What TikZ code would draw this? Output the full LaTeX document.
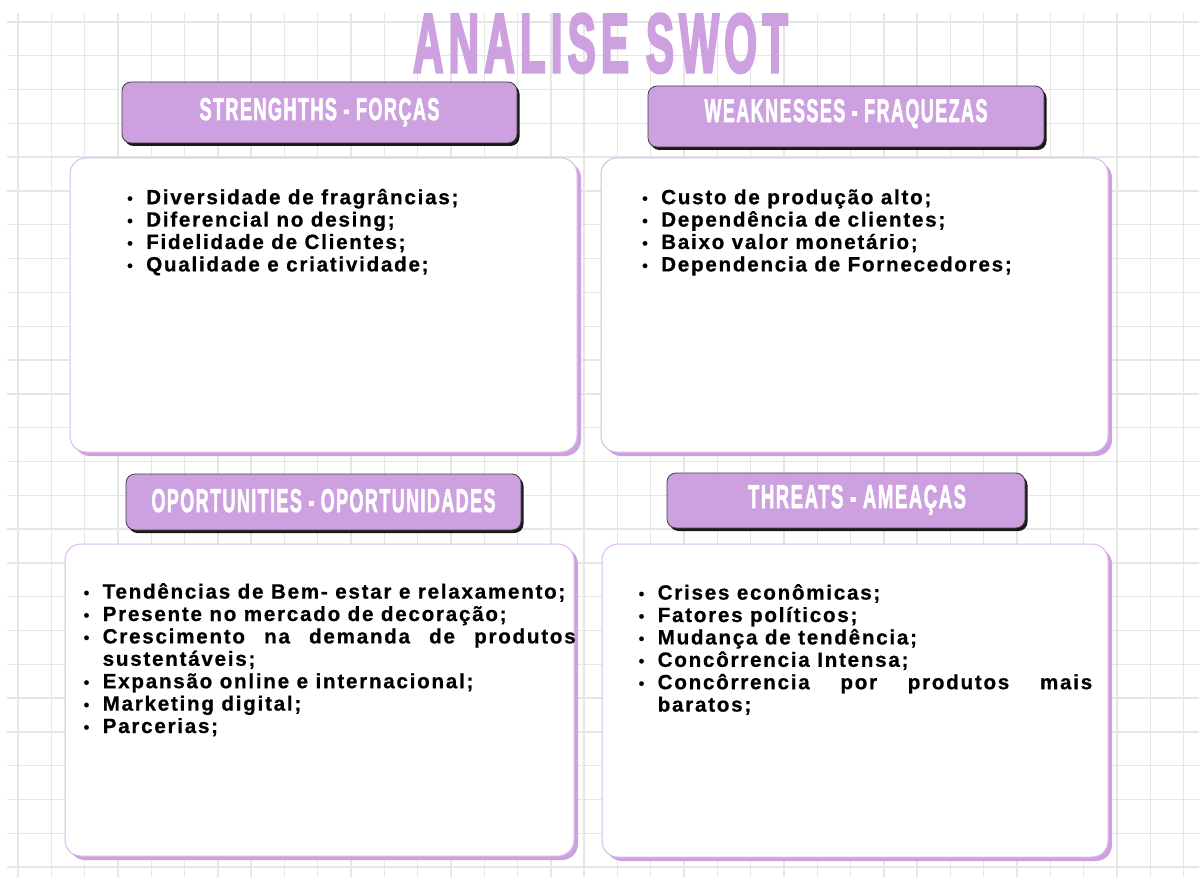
\documentclass[tikz,border=0pt]{standalone}
\usepackage{fontspec}
\usepackage{graphicx}
\usetikzlibrary{shadows}
\setmainfont{Liberation Sans}
\newfontfamily\listfont[LetterSpace=8.5,FakeBold=0.7]{Liberation Sans}
\newfontfamily\headfont[LetterSpace=8,FakeBold=2.5]{Liberation Sans}
\newfontfamily\titlefont[LetterSpace=12,FakeBold=4]{Liberation Sans}

\definecolor{swotpurple}{RGB}{205,160,224}
\definecolor{boxline}{RGB}{218,186,236}
\definecolor{gridgray}{RGB}{230,230,230}

\hyphenpenalty=10000
\exhyphenpenalty=10000

\newcommand{\swotitem}[1]{\par\hangindent=17pt\hangafter=1\noindent\strut
  \makebox[17pt][l]{\hspace{-2pt}{\fontsize{16}{16}\selectfont\raisebox{0.3pt}{•}}}#1\par}

\begin{document}
\begin{tikzpicture}[x=1pt, y=-1pt,
    gridline/.style={draw=gridgray, line width=1.4pt},
    swothead/.style={rounded corners=9pt, fill=swotpurple, draw=black!75, line width=0.8pt,
      text=white, font=\headfont\bfseries, inner sep=0pt,
      drop shadow={shadow xshift=2.5pt, shadow yshift=-3pt, fill=black, opacity=0.9}},
    swotbox/.style={rounded corners=16pt, fill=white, draw=boxline, line width=1pt, inner sep=0pt,
      drop shadow={shadow xshift=4pt, shadow yshift=-4pt, fill=swotpurple, opacity=1}},
    swotlist/.style={anchor=north west, inner sep=0pt, align=justify,
      font=\listfont\bfseries\fontsize{20.6}{22.4}\selectfont}]

		% Background and grid
		\fill[white] (0,0) rectangle (1199,877);
		\useasboundingbox (0,0) rectangle (1199,877);
		\foreach \i in {0,...,35}
			\draw[gridline] ({18+33.3*\i},13) -- ({18+33.3*\i},877);
		\foreach \j in {0,...,25}
			\draw[gridline] (7,{22+33.8*\j}) -- (1199,{22+33.8*\j});

		% Title
		\node[font=\titlefont\bfseries, text=swotpurple, inner sep=0pt, text depth=0pt] (title) at (600.5,43)
			{\resizebox{375pt}{58pt}{ANALISE SWOT}};

		% Content boxes
		\node[swotbox, minimum width=507pt, minimum height=294pt] (sBox) at (323.5,305) {};
		\node[swotbox, minimum width=507pt, minimum height=294pt] (wBox) at (854.5,305) {};
		\node[swotbox, minimum width=509pt, minimum height=312pt] (oBox) at (319.5,700) {};
		\node[swotbox, minimum width=506pt, minimum height=313pt] (tBox) at (855,700.5) {};

		% Headers
		\node[swothead, minimum width=395pt, minimum height=61pt, text depth=7pt] (sHead) at (319.5,112.5)
			{\resizebox{240pt}{22pt}{STRENGHTHS - FORÇAS}};
		\node[swothead, minimum width=396pt, minimum height=61pt, text depth=12pt] (wHead) at (846,116.5)
			{\resizebox{283pt}{22.7pt}{WEAKNESSES - FRAQUEZAS}};
		\node[swothead, minimum width=395pt, minimum height=56pt, text depth=3pt] (oHead) at (323.5,502)
			{\resizebox{344pt}{23pt}{OPORTUNITIES - OPORTUNIDADES}};
		\node[swothead, minimum width=358pt, minimum height=55pt, text depth=8pt] (tHead) at (846,500.5)
			{\hspace*{22pt}\resizebox{218pt}{23pt}{THREATS - AMEAÇAS}};

		% Lists
		\node[swotlist, text width=420pt] (sList) at (129,181.6) {%
			\swotitem{Diversidade de fragrâncias;}
			\swotitem{Diferencial no desing;}
			\swotitem{Fidelidade de Clientes;}
			\swotitem{Qualidade e criatividade;}};
		\node[swotlist, text width=430pt] (wList) at (644,181.6) {%
			\swotitem{Custo de produção alto;}
			\swotitem{Dependência de clientes;}
			\swotitem{Baixo valor monetário;}
			\swotitem{Dependencia de Fornecedores;}};
		\node[swotlist, text width=490pt] (oList) at (85.5,576) {%
			\swotitem{Tendências de Bem- estar e relaxamento;}
			\swotitem{Presente no mercado de decoração;}
			\swotitem{Crescimento na demanda de produtos sustentáveis;}
			\swotitem{Expansão online e internacional;}
			\swotitem{Marketing digital;}
			\swotitem{Parcerias;}};
		\node[swotlist, text width=451.5pt] (tList) at (640.5,577) {%
			\swotitem{Crises econômicas;}
			\swotitem{Fatores políticos;}
			\swotitem{Mudança de tendência;}
			\swotitem{Concôrrencia Intensa;}
			\swotitem{Concôrrencia por produtos mais baratos;}};
	\end{tikzpicture}
\end{document}
